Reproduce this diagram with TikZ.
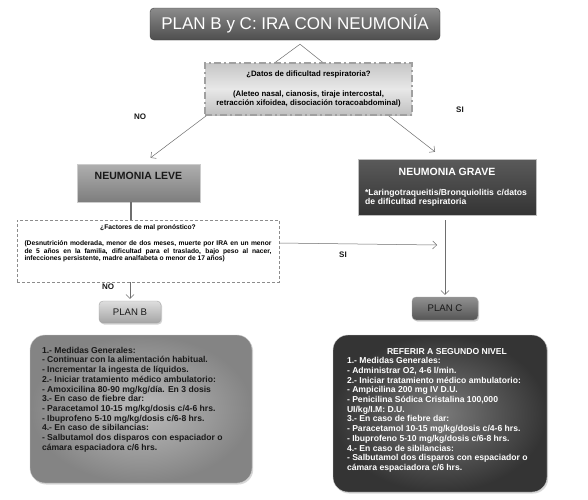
\documentclass[tikz,border=0pt]{standalone}
\usepackage{fontspec}
\setmainfont{Liberation Sans}
\usepackage{tikz}
\usetikzlibrary{arrows.meta, calc, shadows}
\definecolor{ttltop}{RGB}{140,140,140}
\definecolor{ttlmid}{RGB}{108,108,108}
\definecolor{ttlbot}{RGB}{78,78,78}
\definecolor{asktop}{RGB}{198,198,198}
\definecolor{askmid}{RGB}{232,232,232}
\definecolor{askbot}{RGB}{192,192,192}
\definecolor{askline}{RGB}{160,160,160}
\definecolor{levetop}{RGB}{175,175,175}
\definecolor{levebot}{RGB}{125,125,125}
\definecolor{gravetop}{RGB}{90,90,90}
\definecolor{gravebot}{RGB}{52,52,52}
\definecolor{pbtop}{RGB}{222,222,222}
\definecolor{pbbot}{RGB}{165,165,165}
\definecolor{pctop}{RGB}{145,145,145}
\definecolor{pcbot}{RGB}{85,85,85}
\definecolor{bbin}{RGB}{188,188,188}
\definecolor{bbout}{RGB}{132,132,132}
\definecolor{bcin}{RGB}{122,122,122}
\definecolor{bcout}{RGB}{52,52,52}
\definecolor{conncol}{RGB}{110,110,110}
\definecolor{txtdark}{RGB}{25,25,25}
\tikzset{
  titlebox/.style={rectangle, rounded corners=4pt, draw=black!75,
    top color=ttltop, bottom color=ttlbot, middle color=ttlmid,
    minimum width=290pt, minimum height=32pt, text=white,
    font=\fontsize{17}{20}\selectfont},
  askbox/.style={rectangle, draw=askline, line width=1.6pt,
    dash pattern=on 7pt off 3pt on 2pt off 3pt,
    top color=asktop, bottom color=askbot, middle color=askmid,
    minimum width=207pt, minimum height=52pt, align=center,
    font=\bfseries\fontsize{7.8}{9.3}\selectfont},
  factbox/.style={rectangle, draw=black!45, line width=0.9pt,
    dash pattern=on 3pt off 2pt, fill=white,
    minimum width=262pt, minimum height=62pt, inner xsep=7pt, inner ysep=5pt,
    font=\bfseries\fontsize{6.7}{7.3}\selectfont},
  levebox/.style={rectangle, draw=black!20, top color=levetop, bottom color=levebot,
    minimum width=123pt, inner ysep=0pt, text height=15pt, text depth=23pt,
    font=\bfseries\fontsize{10.5}{12}\selectfont, text=txtdark},
  gravebox/.style={rectangle, draw=black!25, top color=gravetop, bottom color=gravebot,
    minimum width=178pt, minimum height=56pt, text width=164pt, align=left,
    font=\bfseries\fontsize{8.6}{9.3}\selectfont, text=white},
  planbox/.style={rectangle, rounded corners=4pt, draw=black!35,
    drop shadow={shadow xshift=1.2pt, shadow yshift=-1.5pt, opacity=0.35},
    font=\fontsize{9.6}{11}\selectfont},
  bodybox/.style={rectangle, rounded corners=15pt, draw=black!20,
    drop shadow={shadow xshift=1.2pt, shadow yshift=-1.5pt, opacity=0.3},
    font=\bfseries\fontsize{8.6}{9.7}\selectfont},
  lbl/.style={font=\bfseries\fontsize{8}{9}\selectfont, text=txtdark},
  line/.style={draw=conncol, line width=0.5pt},
  arrow/.style={line, -{Straight Barb[length=4pt, width=8pt]}}
}
\begin{document}
\begin{tikzpicture}[x=1pt, y=-1pt]
  \useasboundingbox (0,0) rectangle (588,499);
  \fill[white] (0,0) rectangle (588,499);

  \node[titlebox] (title) at (295,24) {PLAN B y C: IRA CON NEUMONÍA};
  \node[askbox] (ask) at (308.5,89) {¿Datos de dificultad respiratoria?\\[10.5pt]
    (Aleteo nasal, cianosis, tiraje intercostal,\\
    retracción xifoidea, disociación toracoabdominal)};
  \node[levebox] (leve) at (138.5,183) {NEUMONIA LEVE};
  \node[gravebox] (grave) at (447,187)
    {\makebox[164pt]{\fontsize{10.5}{12}\selectfont NEUMONIA GRAVE}\\[10.5pt]
     *Laringotraqueitis/Bronquiolitis c/datos\\ de dificultad respiratoria};
  \node[factbox] (fact) at (148,251) {\parbox[c][52pt][t]{247pt}{%
    {\centering ¿Factores de mal pronóstico?\par}\vspace{8.5pt}%
    \noindent (Desnutrición moderada, menor de dos meses, muerte por IRA en un menor\linebreak
    de 5 años en la familia, dificultad para el traslado, bajo peso al nacer,\linebreak
    infecciones persistente, madre analfabeta o menor de 17 años)}};
  \node[planbox, top color=pbtop, bottom color=pbbot, minimum width=62pt, minimum height=22pt,
    text=txtdark] (planb) at (130,312) {PLAN B};
  \node[planbox, top color=pctop, bottom color=pcbot, minimum width=66pt, minimum height=23pt,
    text=txtdark] (planc) at (445,308.5) {PLAN C};

  % Treatment boxes
  \node[bodybox, inner color=bbin, outer color=bbout, minimum width=222pt, minimum height=148pt,
    inner xsep=12pt, inner ysep=12pt, text=txtdark] (bodyb) at (141,409)
    {\parbox[c][124pt][t]{198pt}{\raggedright
      1.- Medidas Generales:\\
      - Continuar con la alimentación habitual.\\
      - Incrementar la ingesta de líquidos.\\
      2.- Iniciar tratamiento médico ambulatorio:\\
      - Amoxicilina 80-90 mg/kg/día. En 3 dosis\\
      3.- En caso de fiebre dar:\\
      - Paracetamol 10-15 mg/kg/dosis c/4-6 hrs.\\
      - Ibuprofeno 5-10 mg/kg/dosis c/6-8 hrs.\\
      4.- En caso de sibilancias:\\
      - Salbutamol dos disparos con espaciador o\\
      cámara espaciadora c/6 hrs.}};
  \node[bodybox, inner color=bcin, outer color=bcout, minimum width=214pt, minimum height=157pt,
    inner xsep=14pt, inner ysep=13pt, text=white] (bodyc) at (440,413.5)
    {\parbox[c][131pt][t]{186pt}{\raggedright
      \makebox[186pt]{\hspace{14pt}REFERIR A SEGUNDO NIVEL}\\
      1.- Medidas Generales:\\
      - Administrar O2, 4-6 l/min.\\
      2.- Iniciar tratamiento médico ambulatorio:\\
      - Ampicilina 200 mg IV D.U.\\
      - Penicilina Sódica Cristalina 100,000\\
      UI/kg/I.M: D.U.\\
      3.- En caso de fiebre dar:\\
      - Paracetamol 10-15 mg/kg/dosis c/4-6 hrs.\\
      - Ibuprofeno 5-10 mg/kg/dosis c/6-8 hrs.\\
      4.- En caso de sibilancias:\\
      - Salbutamol dos disparos con espaciador o\\
      cámara espaciadora c/6 hrs.}};

  % Paths
  \coordinate (apex) at ($(title.south)+(5,4)$);
  \draw[line] ($(ask.north)+(-33,0)$) -- (apex) -- ($(ask.north)+(14,0)$);
  \draw[arrow] ($(ask.south west)+(2,0)$) -- ($(leve.north)+(12,-6)$);
  \draw[arrow] ($(ask.south east)+(-24,0)$) -- ($(grave.north)+(-12,-7)$);
  \coordinate (levefoot) at ($(leve.south)+(-7.5,0)$);
  \draw[line, line width=1.1pt] (levefoot) -- (levefoot |- fact.north);
  \coordinate (sitip) at (437,245);
  \draw[arrow] ($(fact.east)+(0,-8)$) -- (sitip);
  \draw[arrow] (fact.south -| planb.north) -- ($(planb.north)+(0,-2)$);
  \draw[arrow] ($(grave.south -| planc.north)+(0,5)$) -- ($(planc.north)+(0,-2)$);

  % Labels
  \node[lbl] (no1) at (140,117) {NO};
  \node[lbl] (si1) at (460,110) {SI};
  \node[lbl] (si2) at (343,255) {SI};
  \node[lbl] (no2) at (108,287) {NO};
\end{tikzpicture}
\end{document}
